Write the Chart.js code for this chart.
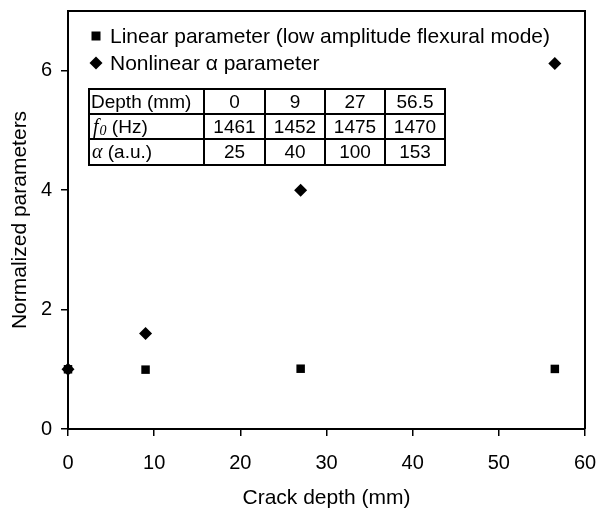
<!DOCTYPE html>
<html>
<head>
<meta charset="utf-8">
<script src="https://cdn.jsdelivr.net/npm/chart.js@4/dist/chart.umd.min.js"></script>
<style>
html,body{margin:0;padding:0;background:#fff;}
#wrap{width:600px;height:508px;position:relative;}
</style>
</head>
<body>
<div id="wrap"><canvas id="c" width="600" height="508"></canvas></div>
<script>
// ---- data ----
const crackDepth = [0, 9, 27, 56.5];
const linearParam = [1, 0.994, 1.0096, 1.006];      // f0 / f0(0)
const nonlinearParam = [1, 1.6, 4.0, 6.12];          // alpha / alpha(0)
const xTicks = [0, 10, 20, 30, 40, 50, 60];
const yTicks = [0, 2, 4, 6];
const legendLabels = ['Linear parameter (low amplitude flexural mode)', 'Nonlinear \u03b1 parameter'];
const tableDepth = ['0', '9', '27', '56.5'];
const tableF0 = ['1461', '1452', '1475', '1470'];
const tableAlpha = ['25', '40', '100', '153'];

const FONT = '"Liberation Sans", Arial, sans-serif';

const toPts = (xs, ys) => xs.map((x, i) => ({x: x, y: ys[i]}));

const overlay = {
  id: 'overlay',
  afterDraw(chart) {
    const ctx = chart.ctx;
    const ca = chart.chartArea;
    ctx.save();
    // legend
    ctx.fillStyle = '#000';
    ctx.font = '21px ' + FONT;
    ctx.textBaseline = 'middle';
    ctx.textAlign = 'left';
    const lx = ca.left + 28, tx = ca.left + 42;
    const ly1 = ca.top + 25, ly2 = ca.top + 52;
    ctx.fillRect(lx - 4.5, ly1 - 4.5, 9, 9);
    ctx.beginPath();
    ctx.moveTo(lx - 6.5, ly2); ctx.lineTo(lx, ly2 - 6.5); ctx.lineTo(lx + 6.5, ly2); ctx.lineTo(lx, ly2 + 6.5);
    ctx.closePath(); ctx.fill();
    ctx.fillText(legendLabels[0], tx, ly1 + 1);
    ctx.fillText(legendLabels[1], tx, ly2 + 1);

    // table
    const cols = [ca.left + 21, ca.left + 136, ca.left + 197, ca.left + 257, ca.left + 317, ca.left + 377];
    const rows = [ca.top + 78, ca.top + 103, ca.top + 128, ca.top + 154];
    ctx.strokeStyle = '#000';
    ctx.lineWidth = 2;
    ctx.beginPath();
    cols.forEach(c => { ctx.moveTo(c, rows[0]); ctx.lineTo(c, rows[3]); });
    rows.forEach(r => { ctx.moveTo(cols[0] - 1, r); ctx.lineTo(cols[5] + 1, r); });
    ctx.stroke();
    const rowData = [tableDepth, tableF0, tableAlpha];
    ctx.font = '19px ' + FONT;
    ctx.textAlign = 'center';
    for (let r = 0; r < 3; r++) {
      const cy = (rows[r] + rows[r + 1]) / 2 + 1;
      for (let c = 0; c < 4; c++) {
        ctx.fillText(rowData[r][c], (cols[c + 1] + cols[c + 2]) / 2, cy);
      }
    }
    ctx.textAlign = 'left';
    let cy = (rows[0] + rows[1]) / 2 + 1;
    ctx.font = '19px ' + FONT;
    ctx.fillText('Depth (mm)', cols[0] + 2, cy);
    cy = (rows[1] + rows[2]) / 2 + 1;
    ctx.font = 'italic 20px "Liberation Serif", serif';
    ctx.fillText('f', cols[0] + 4, cy);
    let w = ctx.measureText('f').width;
    ctx.font = 'italic 14px "Liberation Serif", serif';
    ctx.fillText('0', cols[0] + 4 + w + 1, cy + 4);
    let w2 = ctx.measureText('0').width;
    ctx.font = '19px ' + FONT;
    ctx.fillText(' (Hz)', cols[0] + 4 + w + 1 + w2, cy);
    cy = (rows[2] + rows[3]) / 2 + 1;
    ctx.font = 'italic 20px "Liberation Serif", serif';
    ctx.fillText('\u03b1', cols[0] + 3, cy);
    w = ctx.measureText('\u03b1').width;
    ctx.font = '19px ' + FONT;
    ctx.fillText(' (a.u.)', cols[0] + 3 + w, cy);

    // box top & right
    ctx.lineWidth = 2;
    ctx.beginPath();
    ctx.moveTo(ca.left, ca.top); ctx.lineTo(ca.right, ca.top); ctx.lineTo(ca.right, ca.bottom);
    ctx.stroke();
    ctx.restore();
  }
};

new Chart(document.getElementById('c'), {
  type: 'scatter',
  data: {
    datasets: [
      {
        label: legendLabels[0],
        data: toPts(crackDepth, linearParam),
        pointStyle: 'rect',
        pointRadius: 6,
        pointHoverRadius: 6,
        backgroundColor: '#000',
        borderColor: '#000',
        borderWidth: 0
      },
      {
        label: legendLabels[1],
        data: toPts(crackDepth, nonlinearParam),
        pointStyle: 'rectRot',
        pointRadius: 6.5,
        pointHoverRadius: 6.5,
        backgroundColor: '#000',
        borderColor: '#000',
        borderWidth: 0
      }
    ]
  },
  options: {
    responsive: false,
    animation: false,
    events: [],
    clip: false,
    layout: {padding: {left: 0, right: 15, top: 11, bottom: 0}},
    plugins: {legend: {display: false}, tooltip: {enabled: false}},
    scales: {
      x: {
        type: 'linear',
        min: 0, max: 60,
        afterBuildTicks: s => { s.ticks = xTicks.map(v => ({value: v})); },
        afterFit: s => { s.height = 79; s.paddingLeft = 0; s.paddingRight = 0; },
        grid: {drawOnChartArea: false, color: '#000', tickColor: '#000', tickLength: 7, lineWidth: 1.5},
        border: {display: true, color: '#000', width: 2},
        ticks: {color: '#000', font: {family: FONT, size: 20}, padding: 15, maxRotation: 0},
        title: {display: true, text: 'Crack depth (mm)', color: '#000', font: {family: FONT, size: 21}, padding: {top: 4, bottom: -3}}
      },
      y: {
        type: 'linear',
        min: 0, max: 7,
        afterBuildTicks: s => { s.ticks = yTicks.map(v => ({value: v})); },
        afterFit: s => { s.width = 68; s.paddingTop = 0; s.paddingBottom = 0; },
        grid: {drawOnChartArea: false, color: '#000', tickColor: '#000', tickLength: 7, lineWidth: 1.5},
        border: {display: true, color: '#000', width: 2},
        ticks: {color: '#000', font: {family: FONT, size: 20}, padding: 9},
        title: {display: true, text: 'Normalized parameters', color: '#000', font: {family: FONT, size: 21}, padding: {top: 8, bottom: 0}}
      }
    }
  },
  plugins: [overlay]
});
</script>
</body>
</html>
